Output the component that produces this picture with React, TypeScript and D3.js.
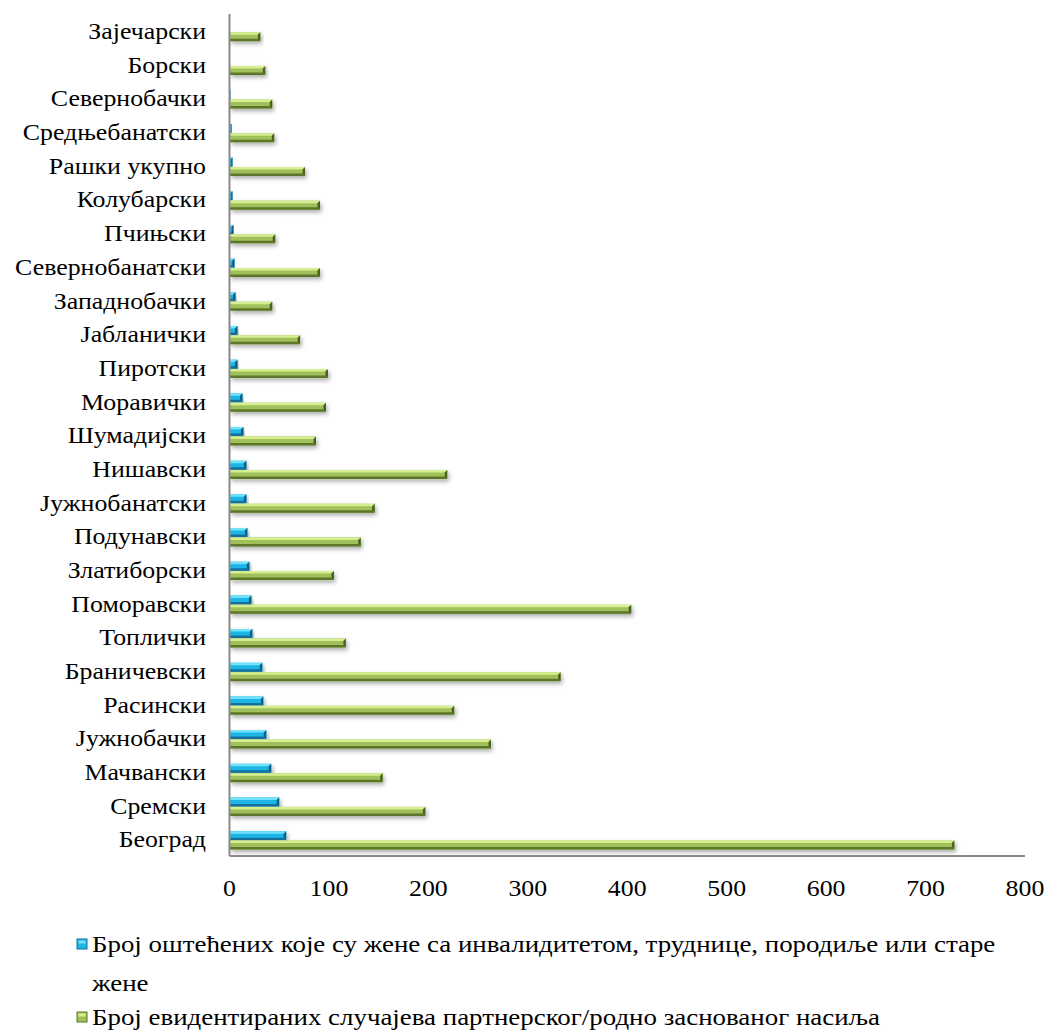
import React from "react";
import * as d3 from "d3";

// Districts, listed top to bottom
const districts = [
  "Зајечарски", "Борски", "Севернобачки", "Средњебанатски", "Рашки укупно",
  "Колубарски", "Пчињски", "Севернобанатски", "Западнобачки", "Јабланички",
  "Пиротски", "Моравички", "Шумадијски", "Нишавски", "Јужнобанатски",
  "Подунавски", "Златиборски", "Поморавски", "Топлички", "Браничевски",
  "Расински", "Јужнобачки", "Мачвански", "Сремски", "Београд",
];

// Victims who are women with disabilities, pregnant, postpartum or elderly
const vulnerableVictims = [
  0, 0, 1, 2, 3, 3, 4, 5, 6, 8, 8, 13, 14, 17, 17, 18, 20, 22, 23, 33, 34, 37, 42, 50, 57,
];

// Registered cases of partner / gender-based violence
const registeredCases = [
  31, 36, 43, 45, 76, 91, 46, 91, 43, 71, 99, 97, 87, 219, 146, 132, 105, 404, 117, 333,
  226, 263, 154, 197, 729,
];

const xTicks = [0, 100, 200, 300, 400, 500, 600, 700, 800];

const legendLines = [
  ["Број оштећених које су жене са инвалидитетом, труднице, породиље или старе", "жене"],
  ["Број евидентираних случајева партнерског/родно заснованог насиља"],
];

const W = 1047;
const H = 1030;
const FONT = "Liberation Serif";
const FS = 23.5;
const SX = 1.1; // the text runs slightly wide
const SX_LEGEND = 1.145;

const palettes = {
  blue: { face: "#1cb6e6", light: "#6fe2fb", dark: "#15709c", end: "#0e5f86" },
  green: { face: "#a0c05c", light: "#d6ee90", dark: "#5c7629", end: "#4a6121" },
};

type Pal = typeof palettes.blue;

function BevelBar({ x0, x1, y, h, pal }: { x0: number; x1: number; y: number; h: number; pal: Pal }) {
  const w = x1 - x0;
  if (w <= 0) return null;
  const b = Math.min(2.5, w / 2, h / 3);
  const xe = x0 + w;
  return (
    <g filter="url(#barShadow)">
      <rect x={x0} y={y} width={w} height={h} fill={pal.face} />
      <polygon
        points={`${x0},${y} ${xe},${y} ${xe - b},${y + b} ${x0},${y + b}`}
        fill={pal.light}
      />
      <polygon
        points={`${x0},${y + h - b} ${xe - b},${y + h - b} ${xe},${y + h} ${x0},${y + h}`}
        fill={pal.dark}
      />
      <polygon
        points={`${xe},${y} ${xe},${y + h} ${xe - b},${y + h - b} ${xe - b},${y + b}`}
        fill={pal.end}
      />
    </g>
  );
}

function Label({ x, y, anchor, sx, children }: { x: number; y: number; anchor: string; sx: number; children: React.ReactNode }) {
  return (
    <text
      transform={`translate(${x},${y}) scale(${sx},1)`}
      dy="0.35em"
      textAnchor={anchor}
      fontFamily={FONT}
      fontSize={FS}
      fill="#000"
    >
      {children}
    </text>
  );
}

export default function App() {
  const left = 229.5;
  const right = 1025;
  const top = 14;
  const bottom = 856;

  const x = d3.scaleLinear().domain([0, 800]).range([left, right]);
  const y = d3.scaleBand<string>().domain(districts).range([top, bottom]).paddingInner(0).paddingOuter(0);
  const band = y.bandwidth();
  const barH = 9;

  return (
    <svg
      width={W}
      height={H}
      viewBox={`0 0 ${W} ${H}`}
      style={{ position: "absolute", left: 0, top: 0, background: "#fff", fontFamily: FONT }}
    >
      <defs>
        <filter id="barShadow" x="-5%" y="-50%" width="115%" height="250%">
          <feDropShadow dx="1.5" dy="2.5" stdDeviation="2" floodColor="#000" floodOpacity="0.32" />
        </filter>
      </defs>

      {/* bars */}
      {districts.map((d, i) => {
        const cy = (y(d) ?? 0) + band / 2 + 1;
        return (
          <g key={d}>
            <BevelBar x0={x(0) + 0.5} x1={x(vulnerableVictims[i])} y={cy - barH} h={barH} pal={palettes.blue} />
            <BevelBar x0={x(0) + 0.5} x1={x(registeredCases[i])} y={cy + 0.4} h={barH} pal={palettes.green} />
          </g>
        );
      })}

      {/* axes */}
      <line x1={left} x2={left} y1={top} y2={bottom} stroke="#8a8a8a" strokeWidth={2} />
      <line x1={left} x2={right} y1={bottom} y2={bottom} stroke="#8a8a8a" strokeWidth={2} />

      {/* category labels */}
      {districts.map((d) => (
        <Label key={d} x={206} y={(y(d) ?? 0) + band / 2} anchor="end" sx={SX}>
          {d}
        </Label>
      ))}

      {/* value ticks */}
      {xTicks.map((t) => (
        <Label key={t} x={x(t)} y={888} anchor="middle" sx={SX}>
          {t}
        </Label>
      ))}

      {/* legend */}
      {[
        { pal: palettes.blue, lines: legendLines[0], y0: 944 },
        { pal: palettes.green, lines: legendLines[1], y0: 1017 },
      ].map((item, k) => (
        <g key={k}>
          <rect x={77} y={item.y0 - 5} width={10} height={10} fill={item.pal.face} stroke={item.pal.dark} strokeWidth={1} />
          <rect x={78.5} y={item.y0 - 3.5} width={7} height={3} fill={item.pal.light} />
          {item.lines.map((ln, j) => (
            <Label key={j} x={92} y={item.y0 + j * 39} anchor="start" sx={SX_LEGEND}>
              {ln}
            </Label>
          ))}
        </g>
      ))}
    </svg>
  );
}
